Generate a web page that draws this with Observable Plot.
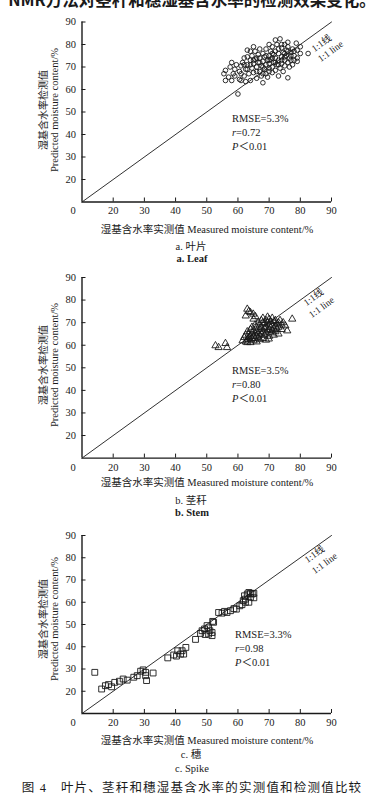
<!DOCTYPE html>
<html><head><meta charset="utf-8">
<script src="https://cdn.jsdelivr.net/npm/d3@7"></script>
<script src="https://cdn.jsdelivr.net/npm/@observablehq/plot@0.6"></script>
<style>
body{margin:0;background:#fff;}
#root{position:relative;width:385px;height:800px;overflow:hidden;font-family:"Liberation Serif","Noto Sans CJK SC",serif;color:#1a1a1a;}
.t{position:absolute;white-space:nowrap;transform:translate(-50%,-50%);line-height:1;}
.ann{position:absolute;white-space:nowrap;font-size:10.5px;line-height:14px;}
svg{position:absolute;left:0;}
</style></head><body><div id="root"></div>
<script>
// ---- data (measured x, predicted y) ----
const leaf = [
[55.5,67],[56,68.5],[57,65.5],[57.5,70],[58,64],[58.5,67],[59,69],[59.5,71],[60,58],[60.5,64.5],
[60.5,68],[61,70.5],[61.5,72],[62,66],[62,74],[62.5,69],[63,77.5],[63,71],[63.5,67],[64,64],
[64,73],[64.5,75],[64.5,69.5],[65,71.5],[65,67.5],[65.5,77],[65.5,73.5],[66,65],[66,70],[66.5,72],
[66.5,75.5],[67,68],[67,74],[67.5,66],[67.5,70.5],[68,72.5],[68,76],[68,63],[68.5,69],[68.5,74.5],
[69,71],[69,67],[69,78],[69.5,73],[69.5,65.5],[70,75],[70,69.5],[70,71.5],[70.5,77],[70.5,73.5],
[71,67.5],[71,70],[71,79],[71.5,72],[71.5,75.5],[72,68.5],[72,74],[72,77],[72.5,71],[72.5,80],
[73,73],[73,66],[73,76],[73.5,82.5],[73.5,69.5],[74,74.5],[74,71.5],[74,78.5],[74.5,76.5],[74.5,68],
[75,73],[75,80],[75,70.5],[75.5,75],[75.5,77.5],[76,65.2],[76,72],[76,79],[76.5,74],[76.5,70],
[77,76.5],[77,73],[77.5,78],[77.5,71],[78,75],[78,77],[78.7,80.6],[79,74],[79,72.5],[80,76],
[80,79],[82.5,76],[63,69],[64,71],[65,73],[66,68],[67,72],[68,70],[69,75],[70,73],
[71,74],[72,72],[73,71],[74,73],[75,76],[76,77],[70,68],[68,67],[66,74],[62,71],
[61,67],[59,66],[58,72],[63,74.5],[71,76],[73,78],[75,74.5],[77,75],[78,73],[79,77.5],
[74,80],[76,81],[72,82],[70,80],[67,78],[65,79],[64,77],[56,64],[61,64],[62.5,63.5]
];
const stem = [
[52.8,59.8],[53.8,59],[56,60.8],[56.5,59],
[63,76],[63.5,75],[64,74.5],[64.9,73.8],[65.6,72.7],[65,71.6],[62.5,73],
[61.5,62],[62,63.5],[62.5,61.5],[62.5,64.5],[63,62.5],[63,66],[63.5,63.5],[63.5,65],[64,61.2],
[64,62.5],[64,64],[64,67],[64.5,63],[64.5,65.5],[64.5,68],[65,62],[65,64],[65,66.5],[65.5,63],
[65.5,65],[65.5,69],[66,61.5],[66,64],[66,66],[66,68],[66.5,63.5],[66.5,65.5],[66.5,70],[67,62.5],
[67,64.5],[67,67],[67,69],[67.5,65],[67.5,68],[67.5,71],[68,63],[68,66],[68,70],[68,72],
[68.5,64.5],[68.5,67.5],[68.5,69.5],[69,62.3],[69,65.5],[69,68],[69,71],[69.5,66.5],[69.5,70],[69.5,72.5],
[70,64],[70,67],[70,69],[70,71.5],[70.5,65.5],[70.5,68],[70.5,70.5],[71,66.5],[71,69],[71,72],
[71.5,64.5],[71.5,67.5],[71.5,70.5],[72,68.5],[72,66],[72,71],[72.5,69.5],[72.5,67],[73,65],[73,70],
[73,68],[73.5,71],[74,67],[74,69],[74.5,70],[75.2,68.6],[75.8,66.4],[77.4,71.6],[63,61.2],[69.9,62.8]
];
const spike = [
[14.1,28.5],[16.3,21],[17.5,22.5],[18.5,23],[19.5,22],[20.5,24],[22,24.5],[23.2,25.5],[24.5,25],[26.6,26.3],
[27.7,27],[28.8,29],[29.6,29.6],[30.4,28.5],[30.4,27],[30.7,24.8],[32.8,28.2],[37.5,35],[39.4,36.3],[40.3,35.8],
[40.7,38.2],[41.6,36.7],[42.6,36.7],[43.3,39.7],[42.1,38.2],[46.4,43.3],[48,46],[48.5,47.2],[49.3,48],[50.1,49.5],
[50.6,48.5],[51,47.2],[50.6,45.7],[51.7,45],[51.7,46.4],[51.9,51.4],[52.2,51],[49.5,45.5],[53.8,55.4],[54.9,55.1],
[55.7,55.9],[56.5,55.4],[57.6,56.2],[58.7,57.1],[59.5,56.9],[60.6,58.4],[61.3,58.9],[61.7,60.7],[62.4,61.4],[62.1,62.9],
[63,63.7],[63.5,64.4],[64,64],[64.6,63.7],[65.1,64],[64,62.2],[63.5,60],[62.4,60],[65.1,62]
];
const xTicks = [20,30,40,50,60,70,80,90];
const yTicks = [20,30,40,50,60,70,80,90];
const domain = [10,90];
const oneToOne = [10,90];
const originLabel = ["0"];
const stats = [
  {rmse:"RMSE=5.3%", r:"0.72", p:"0.01"},
  {rmse:"RMSE=3.5%", r:"0.80", p:"0.01"},
  {rmse:"RMSE=3.3%", r:"0.98", p:"0.01"}
];
const xTitle = "湿基含水率实测值 Measured moisture content/%";
const yTitleZh = "湿基含水率检测值";
const yTitleEn = "Predicted moisture content/%";
const captionsZh = ["a. 叶片","b. 茎秆","c. 穗"];
const captionsEn = ["a. Leaf","b. Stem","c. Spike"];
const figCaption = "图 4　叶片、茎秆和穗湿基含水率的实测值和检测值比较";
const topText = "NMR方法对茎秆和穗湿基含水率的检测效果变化。";

const root = document.getElementById("root");
const ink = "#1a1a1a";

function panel(data, symbol, r, top, height, mt, mb){
  const W = 385, ml = 81.5, mr = 54;
  const plotH = height - mt - mb, plotW = W - ml - mr;
  const svg = Plot.plot({
    width: W, height, marginLeft: ml, marginRight: mr, marginTop: mt, marginBottom: mb,
    x: {domain}, y: {domain},
    style: {fontFamily: '"Liberation Serif", serif', fontSize: "10.5px", color: ink, background: "none", overflow: "visible"},
    marks: [
      Plot.line(oneToOne, {x: d => d, y: d => d, stroke: ink, strokeWidth: 0.9}),
      Plot.dot(data, {x: d => d[0], y: d => d[1], symbol, r, stroke: ink, strokeWidth: 0.9, fill: "none"}),
      Plot.ruleX([domain[0]], {stroke: ink, strokeWidth: 1.4}),
      Plot.ruleY([domain[0]], {stroke: ink, strokeWidth: 1.4}),
      Plot.ruleX(xTicks, {stroke: ink, strokeWidth: 1, insetTop: plotH - 4}),
      Plot.ruleY(yTicks, {stroke: ink, strokeWidth: 1, insetRight: plotW - 4}),
      Plot.axisX(xTicks, {tickSize: 0, tickPadding: 5, label: null}),
      Plot.axisY(yTicks, {tickSize: 0, tickPadding: 6, label: null}),
      Plot.text(originLabel, {x: domain[0], y: domain[0], text: d => d, dx: -9, dy: 5, lineAnchor: "top", fill: ink})
    ]
  });
  svg.style.top = top + "px";
  root.appendChild(svg);
}
panel(leaf, "circle", 2.3, 0, 225, 21.5, 23.5);
panel(stem, "triangle", 2.7, 255, 225, 22, 22.4);
panel(spike, "square", 3.3, 510, 225, 25, 22);

function txt(s, x, y, css){
  const d = document.createElement("div");
  d.className = "t"; d.innerHTML = s;
  d.style.left = x + "px"; d.style.top = y + "px";
  Object.assign(d.style, css || {});
  root.appendChild(d);
  return d;
}
// top partial text (cut off by the page edge, as in the source)
txt(topText, 192, -1, {fontSize: "16.5px", fontFamily: '"Noto Sans CJK SC", sans-serif', fontWeight: "bold"});

const layout = [
  {ann: [232, 112], l1: [322, 44], l2: [331, 52], yc: 110, xt: 230, cz: 247, ce: 259},
  {ann: [232, 364], l1: [314, 298], l2: [322, 308], yc: 365, xt: 483, cz: 501, ce: 513},
  {ann: [235, 628], l1: [315, 555], l2: [325, 564], yc: 619, xt: 741, cz: 755, ce: 769}
];
layout.forEach((L, i) => {
  const a = document.createElement("div");
  a.className = "ann";
  a.style.left = L.ann[0] + "px"; a.style.top = L.ann[1] + "px";
  a.innerHTML = `${stats[i].rmse}<br><i>r</i>=${stats[i].r}<br><i>P</i>＜${stats[i].p}`;
  root.appendChild(a);
  txt("1:1线", L.l1[0], L.l1[1], {fontSize: "9.5px", transform: "translate(-50%,-50%) rotate(-36deg)"});
  txt("1:1 line", L.l2[0], L.l2[1], {fontSize: "9.5px", transform: "translate(-50%,-50%) rotate(-36deg)"});
  txt(yTitleZh, 44, L.yc, {fontSize: "10px", transform: "translate(-50%,-50%) rotate(-90deg)"});
  txt(yTitleEn, 55, L.yc, {fontSize: "10.5px", transform: "translate(-50%,-50%) rotate(-90deg)"});
  txt(xTitle, 207, L.xt, {fontSize: "10.5px"});
  txt(captionsZh[i], 191, L.cz, {fontSize: "10.5px"});
  txt(captionsEn[i], 192, L.ce, {fontSize: "10.5px", fontWeight: i < 2 ? "bold" : "normal"});
});
txt(figCaption, 192, 788, {fontSize: "12.5px", letterSpacing: "1.2px"});
</script></body></html>
